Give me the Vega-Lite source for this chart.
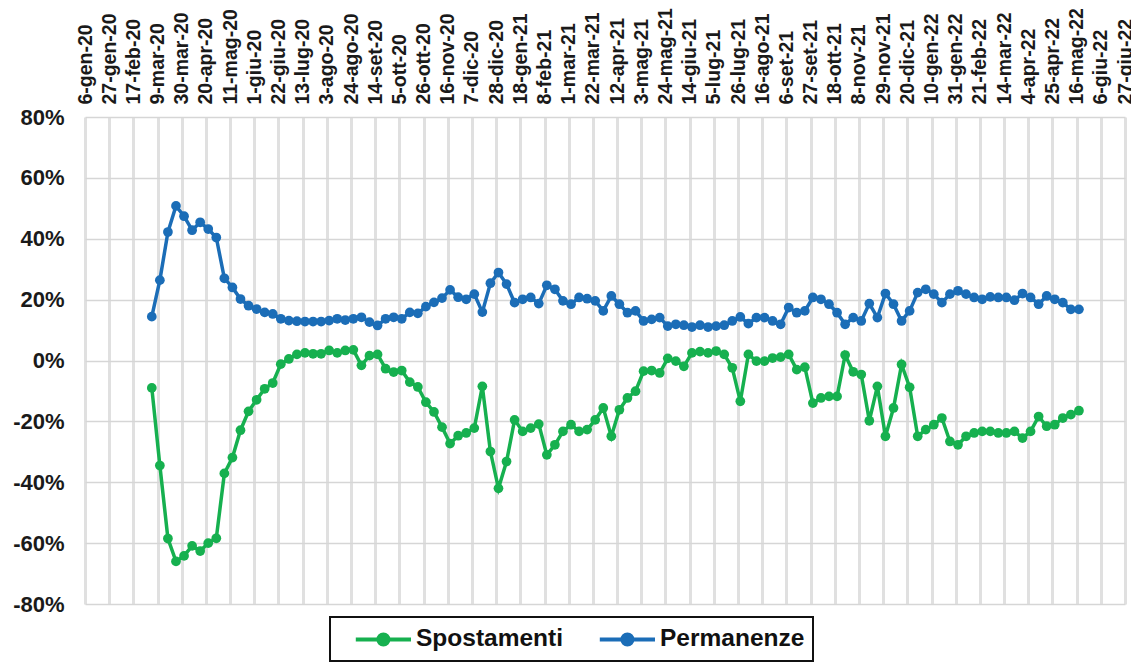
{
  "$schema": "https://vega.github.io/schema/vega-lite/v6.json",
  "width": 1040,
  "height": 487,
  "autosize": {"type": "none"},
  "padding": {"left": 85, "top": 117, "right": 6, "bottom": 64},
  "background": "white",
  "data": {
    "values": [
      {"d":"2020-03-04","Spostamenti":-9.0,"Permanenze":14.4},
      {"d":"2020-03-11","Spostamenti":-34.5,"Permanenze":26.4},
      {"d":"2020-03-18","Spostamenti":-58.5,"Permanenze":42.2},
      {"d":"2020-03-25","Spostamenti":-66.0,"Permanenze":50.8},
      {"d":"2020-04-01","Spostamenti":-64.2,"Permanenze":47.4},
      {"d":"2020-04-08","Spostamenti":-60.9,"Permanenze":42.8},
      {"d":"2020-04-15","Spostamenti":-62.6,"Permanenze":45.4},
      {"d":"2020-04-22","Spostamenti":-60.0,"Permanenze":43.2},
      {"d":"2020-04-29","Spostamenti":-58.4,"Permanenze":40.4},
      {"d":"2020-05-06","Spostamenti":-37.1,"Permanenze":27.0},
      {"d":"2020-05-13","Spostamenti":-31.9,"Permanenze":24.0},
      {"d":"2020-05-20","Spostamenti":-22.9,"Permanenze":20.2},
      {"d":"2020-05-27","Spostamenti":-16.7,"Permanenze":18.0},
      {"d":"2020-06-03","Spostamenti":-12.9,"Permanenze":16.9},
      {"d":"2020-06-10","Spostamenti":-9.3,"Permanenze":15.8},
      {"d":"2020-06-17","Spostamenti":-7.4,"Permanenze":15.3},
      {"d":"2020-06-24","Spostamenti":-1.2,"Permanenze":13.7},
      {"d":"2020-07-01","Spostamenti":0.5,"Permanenze":13.1},
      {"d":"2020-07-08","Spostamenti":2.0,"Permanenze":12.9},
      {"d":"2020-07-15","Spostamenti":2.5,"Permanenze":12.8},
      {"d":"2020-07-22","Spostamenti":2.2,"Permanenze":12.8},
      {"d":"2020-07-29","Spostamenti":2.2,"Permanenze":12.8},
      {"d":"2020-08-05","Spostamenti":3.3,"Permanenze":13.1},
      {"d":"2020-08-12","Spostamenti":2.5,"Permanenze":13.7},
      {"d":"2020-08-19","Spostamenti":3.3,"Permanenze":13.3},
      {"d":"2020-08-26","Spostamenti":3.5,"Permanenze":13.7},
      {"d":"2020-09-02","Spostamenti":-1.6,"Permanenze":14.2},
      {"d":"2020-09-09","Spostamenti":1.6,"Permanenze":12.6},
      {"d":"2020-09-16","Spostamenti":2.0,"Permanenze":11.5},
      {"d":"2020-09-23","Spostamenti":-2.7,"Permanenze":13.7},
      {"d":"2020-09-30","Spostamenti":-3.8,"Permanenze":14.2},
      {"d":"2020-10-07","Spostamenti":-3.3,"Permanenze":13.7},
      {"d":"2020-10-14","Spostamenti":-7.1,"Permanenze":15.8},
      {"d":"2020-10-21","Spostamenti":-8.7,"Permanenze":15.5},
      {"d":"2020-10-28","Spostamenti":-13.7,"Permanenze":17.7},
      {"d":"2020-11-04","Spostamenti":-16.9,"Permanenze":19.1},
      {"d":"2020-11-11","Spostamenti":-21.9,"Permanenze":20.5},
      {"d":"2020-11-18","Spostamenti":-27.3,"Permanenze":23.2},
      {"d":"2020-11-25","Spostamenti":-24.7,"Permanenze":20.8},
      {"d":"2020-12-02","Spostamenti":-23.8,"Permanenze":20.1},
      {"d":"2020-12-09","Spostamenti":-22.2,"Permanenze":21.8},
      {"d":"2020-12-16","Spostamenti":-8.5,"Permanenze":15.9},
      {"d":"2020-12-23","Spostamenti":-29.9,"Permanenze":25.4},
      {"d":"2020-12-30","Spostamenti":-42.0,"Permanenze":28.9},
      {"d":"2021-01-06","Spostamenti":-33.2,"Permanenze":25.1},
      {"d":"2021-01-13","Spostamenti":-19.5,"Permanenze":19.0},
      {"d":"2021-01-20","Spostamenti":-23.3,"Permanenze":20.1},
      {"d":"2021-01-27","Spostamenti":-22.2,"Permanenze":20.7},
      {"d":"2021-02-03","Spostamenti":-20.9,"Permanenze":18.7},
      {"d":"2021-02-10","Spostamenti":-31.0,"Permanenze":24.7},
      {"d":"2021-02-17","Spostamenti":-27.7,"Permanenze":23.4},
      {"d":"2021-02-24","Spostamenti":-23.3,"Permanenze":19.6},
      {"d":"2021-03-03","Spostamenti":-21.1,"Permanenze":18.5},
      {"d":"2021-03-10","Spostamenti":-23.3,"Permanenze":20.7},
      {"d":"2021-03-17","Spostamenti":-22.7,"Permanenze":20.3},
      {"d":"2021-03-24","Spostamenti":-19.5,"Permanenze":19.6},
      {"d":"2021-03-31","Spostamenti":-15.6,"Permanenze":16.3},
      {"d":"2021-04-07","Spostamenti":-24.9,"Permanenze":21.2},
      {"d":"2021-04-14","Spostamenti":-16.2,"Permanenze":18.5},
      {"d":"2021-04-21","Spostamenti":-12.3,"Permanenze":15.7},
      {"d":"2021-04-28","Spostamenti":-10.1,"Permanenze":16.3},
      {"d":"2021-05-05","Spostamenti":-3.5,"Permanenze":13.0},
      {"d":"2021-05-12","Spostamenti":-3.3,"Permanenze":13.5},
      {"d":"2021-05-19","Spostamenti":-4.1,"Permanenze":14.1},
      {"d":"2021-05-26","Spostamenti":0.7,"Permanenze":11.3},
      {"d":"2021-06-02","Spostamenti":-0.2,"Permanenze":11.9},
      {"d":"2021-06-09","Spostamenti":-1.9,"Permanenze":11.6},
      {"d":"2021-06-16","Spostamenti":2.5,"Permanenze":11.0},
      {"d":"2021-06-23","Spostamenti":2.9,"Permanenze":11.6},
      {"d":"2021-06-30","Spostamenti":2.5,"Permanenze":11.0},
      {"d":"2021-07-07","Spostamenti":3.1,"Permanenze":11.3},
      {"d":"2021-07-14","Spostamenti":2.0,"Permanenze":11.6},
      {"d":"2021-07-21","Spostamenti":-2.4,"Permanenze":13.0},
      {"d":"2021-07-28","Spostamenti":-13.4,"Permanenze":14.3},
      {"d":"2021-08-04","Spostamenti":2.0,"Permanenze":12.1},
      {"d":"2021-08-11","Spostamenti":-0.2,"Permanenze":14.1},
      {"d":"2021-08-18","Spostamenti":-0.2,"Permanenze":14.1},
      {"d":"2021-08-25","Spostamenti":0.8,"Permanenze":13.0},
      {"d":"2021-09-01","Spostamenti":1.1,"Permanenze":11.9},
      {"d":"2021-09-08","Spostamenti":2.0,"Permanenze":17.4},
      {"d":"2021-09-15","Spostamenti":-3.0,"Permanenze":15.7},
      {"d":"2021-09-22","Spostamenti":-2.2,"Permanenze":16.3},
      {"d":"2021-09-29","Spostamenti":-14.0,"Permanenze":20.7},
      {"d":"2021-10-06","Spostamenti":-12.3,"Permanenze":20.1},
      {"d":"2021-10-13","Spostamenti":-11.8,"Permanenze":18.5},
      {"d":"2021-10-20","Spostamenti":-11.8,"Permanenze":15.7},
      {"d":"2021-10-27","Spostamenti":1.8,"Permanenze":11.9},
      {"d":"2021-11-03","Spostamenti":-3.7,"Permanenze":14.1},
      {"d":"2021-11-10","Spostamenti":-4.6,"Permanenze":13.0},
      {"d":"2021-11-17","Spostamenti":-19.8,"Permanenze":18.7},
      {"d":"2021-11-24","Spostamenti":-8.5,"Permanenze":14.1},
      {"d":"2021-12-01","Spostamenti":-24.9,"Permanenze":22.0},
      {"d":"2021-12-08","Spostamenti":-15.6,"Permanenze":18.5},
      {"d":"2021-12-15","Spostamenti":-1.3,"Permanenze":13.0},
      {"d":"2021-12-22","Spostamenti":-8.8,"Permanenze":16.3},
      {"d":"2021-12-29","Spostamenti":-24.9,"Permanenze":22.3},
      {"d":"2022-01-05","Spostamenti":-22.7,"Permanenze":23.4},
      {"d":"2022-01-12","Spostamenti":-21.1,"Permanenze":21.8},
      {"d":"2022-01-19","Spostamenti":-18.9,"Permanenze":19.0},
      {"d":"2022-01-26","Spostamenti":-26.6,"Permanenze":21.8},
      {"d":"2022-02-02","Spostamenti":-27.7,"Permanenze":22.9},
      {"d":"2022-02-09","Spostamenti":-24.9,"Permanenze":21.8},
      {"d":"2022-02-16","Spostamenti":-23.8,"Permanenze":20.7},
      {"d":"2022-02-23","Spostamenti":-23.3,"Permanenze":20.1},
      {"d":"2022-03-02","Spostamenti":-23.3,"Permanenze":20.9},
      {"d":"2022-03-09","Spostamenti":-23.8,"Permanenze":20.7},
      {"d":"2022-03-16","Spostamenti":-23.8,"Permanenze":20.7},
      {"d":"2022-03-23","Spostamenti":-23.3,"Permanenze":19.8},
      {"d":"2022-03-30","Spostamenti":-25.5,"Permanenze":22.0},
      {"d":"2022-04-06","Spostamenti":-23.3,"Permanenze":20.7},
      {"d":"2022-04-13","Spostamenti":-18.4,"Permanenze":18.5},
      {"d":"2022-04-20","Spostamenti":-21.6,"Permanenze":21.2},
      {"d":"2022-04-27","Spostamenti":-21.1,"Permanenze":20.1},
      {"d":"2022-05-04","Spostamenti":-18.9,"Permanenze":19.0},
      {"d":"2022-05-11","Spostamenti":-17.8,"Permanenze":16.8},
      {"d":"2022-05-18","Spostamenti":-16.5,"Permanenze":16.8}
    ]
  },
  "transform": [
    {"fold": ["Spostamenti", "Permanenze"], "as": ["serie", "valore"]}
  ],
  "mark": {
    "type": "line",
    "strokeWidth": 3.5,
    "point": {"filled": true, "size": 95}
  },
  "encoding": {
    "x": {
      "field": "d",
      "type": "temporal",
      "scale": {
        "type": "utc",
        "domain": [
          {"year": 2020, "month": 1, "date": 6, "utc": true},
          {"year": 2022, "month": 6, "date": 27, "utc": true}
        ]
      },
      "axis": {
        "orient": "top",
        "title": null,
        "domain": false,
        "ticks": false,
        "grid": true,
        "gridColor": "#e0e0e0",
        "gridWidth": 3,
        "labelAngle": 270,
        "labelAlign": "left",
        "labelBaseline": "middle",
        "labelPadding": 13,
        "labelFont": "Liberation Sans",
        "labelFontSize": 19.5,
        "labelFontWeight": "bold",
        "labelColor": "#1a1a1a",
        "labelOverlap": false,
        "labelBound": false,
        "labelFlush": false,
        "labelExpr": "utcdate(datum.value) + '-' + ['gen','feb','mar','apr','mag','giu','lug','ago','set','ott','nov','dic'][utcmonth(datum.value)] + '-' + utcFormat(datum.value, '%y')",
        "values": [
          {"year": 2020, "month": 1, "date": 6, "utc": true},
          {"year": 2020, "month": 1, "date": 27, "utc": true},
          {"year": 2020, "month": 2, "date": 17, "utc": true},
          {"year": 2020, "month": 3, "date": 9, "utc": true},
          {"year": 2020, "month": 3, "date": 30, "utc": true},
          {"year": 2020, "month": 4, "date": 20, "utc": true},
          {"year": 2020, "month": 5, "date": 11, "utc": true},
          {"year": 2020, "month": 6, "date": 1, "utc": true},
          {"year": 2020, "month": 6, "date": 22, "utc": true},
          {"year": 2020, "month": 7, "date": 13, "utc": true},
          {"year": 2020, "month": 8, "date": 3, "utc": true},
          {"year": 2020, "month": 8, "date": 24, "utc": true},
          {"year": 2020, "month": 9, "date": 14, "utc": true},
          {"year": 2020, "month": 10, "date": 5, "utc": true},
          {"year": 2020, "month": 10, "date": 26, "utc": true},
          {"year": 2020, "month": 11, "date": 16, "utc": true},
          {"year": 2020, "month": 12, "date": 7, "utc": true},
          {"year": 2020, "month": 12, "date": 28, "utc": true},
          {"year": 2021, "month": 1, "date": 18, "utc": true},
          {"year": 2021, "month": 2, "date": 8, "utc": true},
          {"year": 2021, "month": 3, "date": 1, "utc": true},
          {"year": 2021, "month": 3, "date": 22, "utc": true},
          {"year": 2021, "month": 4, "date": 12, "utc": true},
          {"year": 2021, "month": 5, "date": 3, "utc": true},
          {"year": 2021, "month": 5, "date": 24, "utc": true},
          {"year": 2021, "month": 6, "date": 14, "utc": true},
          {"year": 2021, "month": 7, "date": 5, "utc": true},
          {"year": 2021, "month": 7, "date": 26, "utc": true},
          {"year": 2021, "month": 8, "date": 16, "utc": true},
          {"year": 2021, "month": 9, "date": 6, "utc": true},
          {"year": 2021, "month": 9, "date": 27, "utc": true},
          {"year": 2021, "month": 10, "date": 18, "utc": true},
          {"year": 2021, "month": 11, "date": 8, "utc": true},
          {"year": 2021, "month": 11, "date": 29, "utc": true},
          {"year": 2021, "month": 12, "date": 20, "utc": true},
          {"year": 2022, "month": 1, "date": 10, "utc": true},
          {"year": 2022, "month": 1, "date": 31, "utc": true},
          {"year": 2022, "month": 2, "date": 21, "utc": true},
          {"year": 2022, "month": 3, "date": 14, "utc": true},
          {"year": 2022, "month": 4, "date": 4, "utc": true},
          {"year": 2022, "month": 4, "date": 25, "utc": true},
          {"year": 2022, "month": 5, "date": 16, "utc": true},
          {"year": 2022, "month": 6, "date": 6, "utc": true},
          {"year": 2022, "month": 6, "date": 27, "utc": true}
        ]
      }
    },
    "y": {
      "field": "valore",
      "type": "quantitative",
      "scale": {"domain": [-80, 80], "nice": false, "zero": false},
      "axis": {
        "title": null,
        "domain": false,
        "ticks": false,
        "grid": true,
        "gridColor": "#d6d6d6",
        "gridWidth": 1.5,
        "values": [-80, -60, -40, -20, 0, 20, 40, 60, 80],
        "labelExpr": "datum.value + '%'",
        "labelPadding": 21,
        "labelFont": "Liberation Sans",
        "labelFontSize": 22,
        "labelFontWeight": "bold",
        "labelColor": "#1a1a1a",
        "labelBound": false,
        "labelFlush": false
      }
    },
    "color": {
      "field": "serie",
      "type": "nominal",
      "scale": {"domain": ["Spostamenti", "Permanenze"], "range": ["#16b04f", "#1b6db7"]},
      "legend": {
        "title": " ",
        "titleOrient": "left",
        "titlePadding": 47,
        "titleFontSize": 10,
        "orient": "none",
        "legendX": 245,
        "legendY": 500,
        "direction": "horizontal",
        "symbolType": "M-3.6,0L1,0M-1.72,0A0.42,0.42,0,1,1,-0.88,0A0.42,0.42,0,1,1,-1.72,0Z",
        "symbolSize": 576,
        "symbolStrokeWidth": 4,
        "labelFont": "Liberation Sans",
        "labelFontSize": 24.5,
        "labelFontWeight": "bold",
        "labelColor": "#111111",
        "labelOffset": 3,
        "labelExpr": "datum.label == 'Permanenze' ? datum.label + '\u00a0\u00a0\u00a0\u00a0' : datum.label",
        "columnPadding": 27,
        "padding": 8,
        "strokeColor": "#111111",
        "fillColor": "white",
        "labelLimit": 400,
        "encode": {
          "symbols": {
            "update": {
              "fill": {"scale": "color", "field": "value"},
              "stroke": {"scale": "color", "field": "value"}
            }
          }
        }
      }
    },
    "order": {"field": "d", "type": "temporal"}
  },
  "config": {
    "view": {"stroke": null},
    "legend": {"strokeWidth": 2}
  }
}
